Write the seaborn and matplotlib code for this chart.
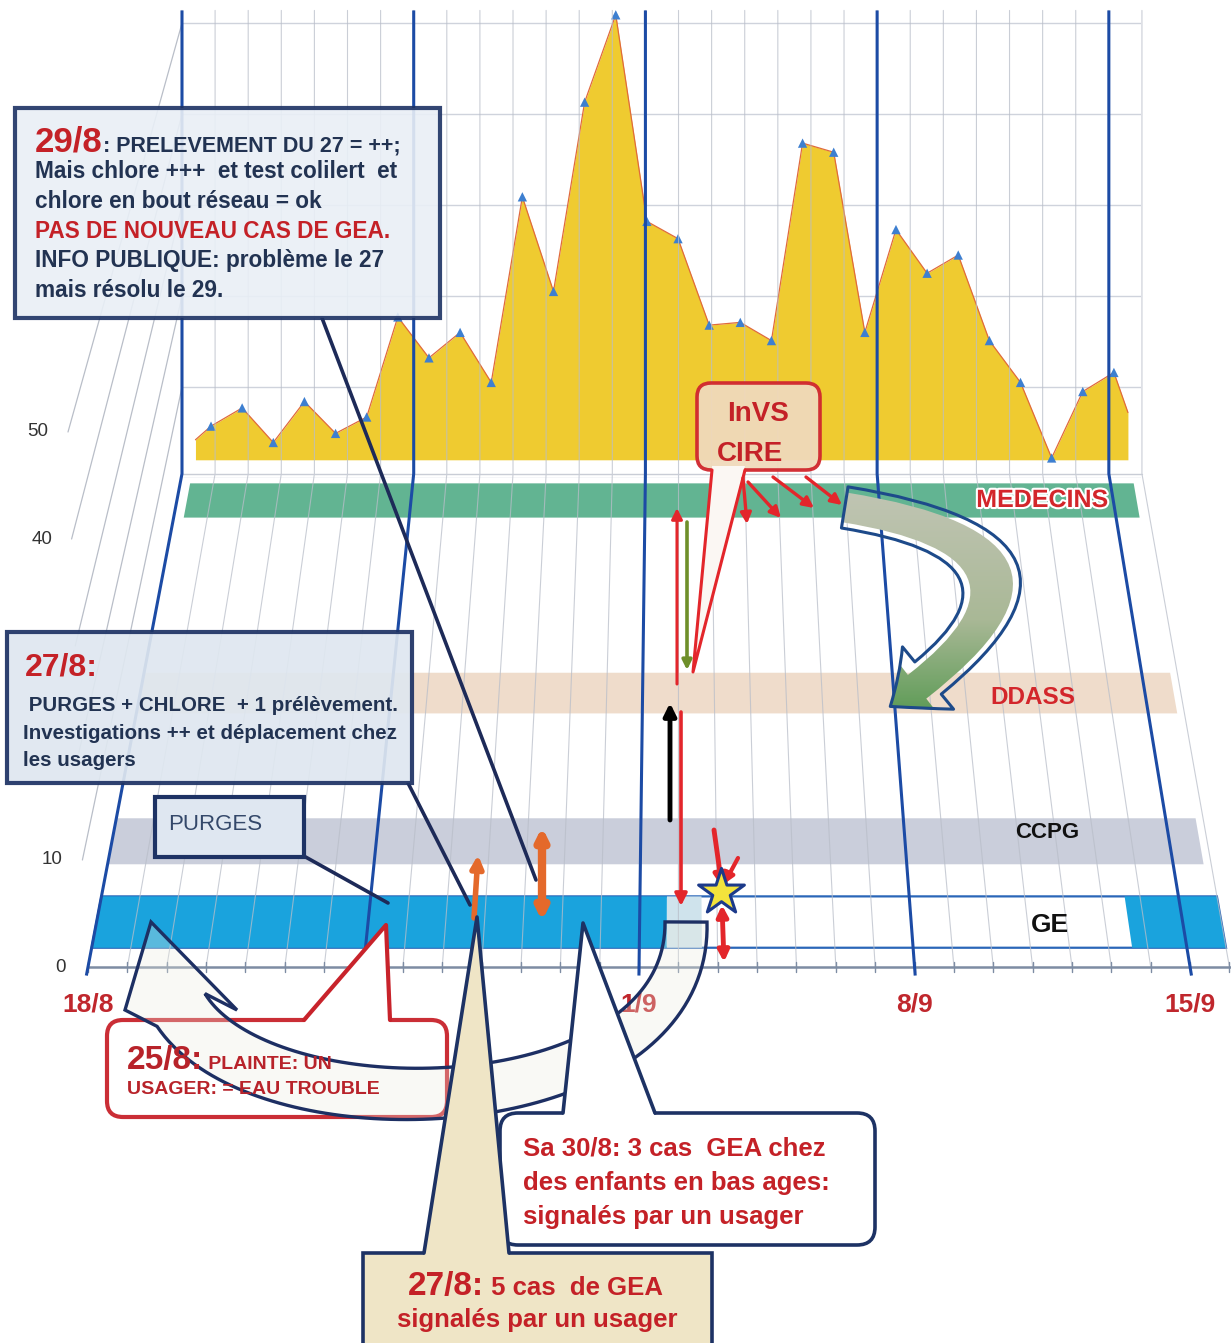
import numpy as np
import matplotlib
matplotlib.use("Agg")
import matplotlib.pyplot as plt
import seaborn as sns
import pandas as pd
import matplotlib.patheffects as pe
from matplotlib.patches import Polygon, FancyBboxPatch, FancyArrowPatch, Rectangle, ArrowStyle
from matplotlib.colors import LinearSegmentedColormap

# ------------------------------------------------------------------ data
date_labels = ["18/8", "25/8", "1/9", "8/9", "15/9"]
date_ticks = [0, 7, 14, 21, 28]          # days since 18/8
floor_days = list(range(30))              # daily grid 18/8 .. 16/9

daily_index = list(range(30))
daily_cases = [3.7, 5.7, 1.9, 6.4, 2.9, 4.7, 15.7, 11.2, 14.0, 8.5,
               28.9, 18.5, 39.3, 48.9, 26.2, 24.3, 14.8, 15.1, 13.1, 34.8,
               33.8, 14.0, 25.3, 20.5, 22.5, 13.1, 8.5, 0.2, 7.5, 9.6]
area_edge_x = [-0.5, 29.45]
area_edge_vals = [2.2, 5.2]

band_names = ["GE", "CCPG", "DDASS", "MEDECINS"]
band_low = [1.8, 9.6, 23.7, 42.0]
band_high = [6.6, 13.9, 27.5, 45.2]
band_start = [0.0, 0.0, 0.0, 0.3]
band_end = [29.0, 28.8, 28.8, 28.7]
band_colors = ["#1aa3dd", "#cacedb", "#efdccb", "#62b492"]
ge_active = [(0.0, 14.7), (26.6, 29.0)]

y_tick_values = [0, 10, 40, 50]
wall_levels = [10, 20, 30, 40, 50]

# ------------------------------------------------------------------ style
sns.set_theme(style="white")
plt.rcParams["font.family"] = ["Liberation Sans", "DejaVu Sans"]

W, H = 1231, 1343
fig = plt.figure(figsize=(W / 100, H / 100), dpi=100)
fig.patch.set_facecolor("white")

# perspective floor geometry (day, level) -> floor-axes x
PX_DAY, PX_LEVEL, X0, Y0 = 39.36, 10.7, 88, 967
BACK_LEVEL, TOP_LEVEL = 46.1, 89.4
BACK_OFFSET, BACK_SCALE = 2.388, 0.841


def fx(d, v):
    t = min(v / BACK_LEVEL, 1.0)
    return BACK_OFFSET * t + d * (1 - (1 - BACK_SCALE) * t)


ax_area = fig.add_axes([183 / W, 1 - 478 / H, (1141 - 183) / W, 478 / H])
ax_area.set_zorder(0)
ax = fig.add_axes([0, 0, 1, 1])
ax.set_zorder(1)
axn = fig.add_axes([0, 0, 1, 1])
axn.set_zorder(2)

# ---------------------------------------------------------------- area chart
x_full = [area_edge_x[0]] + daily_index + [area_edge_x[1]]
y_full = [area_edge_vals[0]] + daily_cases + [area_edge_vals[1]]
ax_area.fill_between(x_full, 0, y_full, color="#efcb30", lw=0, zorder=2)
sns.lineplot(x=x_full, y=y_full, ax=ax_area, color="#e06a3c", lw=0.9,
             sort=False, estimator=None, zorder=3)
df = pd.DataFrame({"day": daily_index, "cases": daily_cases})
sns.scatterplot(data=df, x="day", y="cases", marker="^", s=45,
                color="#3d7fd0", edgecolor="none", ax=ax_area, zorder=4)
ax_area.set_xlim(-0.9, 29.87)
ax_area.set_ylim(-2, -2 + 478 / 9.1)
ax_area.set_yticks([-2, 8, 18, 28, 38, 48])
ax_area.set_xticks([])
ax_area.yaxis.grid(True, color="#cfd3dc", lw=1.0)
ax_area.set_axisbelow(True)
ax_area.tick_params(left=False, labelleft=False, bottom=False, labelbottom=False)
ax_area.set_xlabel("")
ax_area.set_ylabel("")
for s in ax_area.spines.values():
    s.set_visible(False)

# ---------------------------------------------------------------- floor
ax.set_xlim(-X0 / PX_DAY, (W - X0) / PX_DAY)
ax.set_ylim(-(H - Y0) / PX_LEVEL, Y0 / PX_LEVEL)
ax.axis("off")

for name, lo, hi, d0, d1, col in zip(band_names, band_low, band_high,
                                     band_start, band_end, band_colors):
    corners = [(fx(d0, lo), lo), (fx(d1, lo), lo), (fx(d1, hi), hi), (fx(d0, hi), hi)]
    if name == "GE":
        ax.add_patch(Polygon(corners, closed=True, fc="white", ec="#2a66b8", lw=1.6, zorder=2))
        for a, b in ge_active:
            seg = [(fx(a, lo), lo), (fx(b, lo), lo), (fx(b, hi), hi), (fx(a, hi), hi)]
            ax.add_patch(Polygon(seg, closed=True, fc=col, ec="none", zorder=2.2))
        a, b = ge_active[0][1], ge_active[0][1] + 0.9
        seg = [(fx(a, lo), lo), (fx(b, lo), lo), (fx(b, hi), hi), (fx(a, hi), hi)]
        ax.add_patch(Polygon(seg, closed=True, fc="#cfe3ec", ec="none", zorder=2.1))
    else:
        ax.add_patch(Polygon(corners, closed=True, fc=col, ec="none", zorder=2))

for d in floor_days:
    ax.plot([fx(d, 0), fx(d, BACK_LEVEL), fx(d, TOP_LEVEL)], [0, BACK_LEVEL, TOP_LEVEL],
            color="#b9bec9", lw=0.8, alpha=0.75, zorder=3)
ax.plot([fx(0, BACK_LEVEL), fx(29, BACK_LEVEL)], [BACK_LEVEL, BACK_LEVEL],
        color="#c9cdd6", lw=1.0, zorder=3)

for v in wall_levels:
    front = ((86 - 0.36 * v) - X0) / PX_DAY
    back_v = 45.7 + 0.85 * v
    ax.plot([front, BACK_OFFSET], [v, back_v], color="#b9bec8", lw=0.9, zorder=3)

for d in date_ticks:
    ax.plot([fx(d, -0.8), fx(d, BACK_LEVEL), fx(d, TOP_LEVEL)], [-0.8, BACK_LEVEL, TOP_LEVEL],
            color="#1c4ba5", lw=2.2, zorder=5, solid_capstyle="butt")

ax.plot([fx(0, 0), (W - X0) / PX_DAY], [0, 0], color="#7d8ca3", lw=1.8, zorder=4)
for d in floor_days:
    ax.plot([d, d], [-0.5, 0.5], color="#7d8ca3", lw=1.0, zorder=4)
for d, lab in zip(date_ticks, date_labels):
    ax.text(d, -3.55, lab, ha="center", va="center", fontsize=19, fontweight="bold",
            color="#c0272d", zorder=6)
for v in y_tick_values:
    ax.text(((66 - 0.35 * v) - X0) / PX_DAY, v, str(v), ha="right", va="center",
            fontsize=13.5, color="#333333", zorder=6)

# ---------------------------------------------------------------- annotation layer
axn.set_xlim(0, W)
axn.set_ylim(H, 0)
axn.axis("off")

NAVY = "#1d3264"
RED = "#c42127"
ARED = "#e3262b"
TXT = "#223352"


def mixed(x, y, parts, z=10):
    t0 = axn.text(x, y, parts[0][0], fontsize=parts[0][1], color=parts[0][2],
                  fontweight="bold", va="baseline", ha="left", zorder=z)
    prev, psize = t0, parts[0][1]
    for txt, size, col in parts[1:]:
        prev = axn.annotate(txt, xy=(1, 0), xycoords=prev, xytext=(0, 0.21 * psize),
                            textcoords="offset points", fontsize=size, color=col,
                            fontweight="bold", va="baseline", ha="left", zorder=z)
        psize = size
    return t0


# pointer lines from boxes
axn.plot([322, 536], [318, 880], color="#1d2a58", lw=2.6, zorder=7)
axn.plot([408, 470], [783, 905], color="#1d2a58", lw=2.6, zorder=7)
axn.plot([302, 388], [855, 903], color="#1d2a58", lw=2.6, zorder=7)

# top-left box
axn.add_patch(Rectangle((15, 108), 425, 210, fc="#e9eff6", ec=NAVY, lw=3, alpha=0.9, zorder=8))
mixed(35, 152, [("29/8", 25, RED), (": PRELEVEMENT DU 27 = ++;", 15.5, TXT)])
for txt, col, yb in [("Mais chlore +++  et test colilert  et", TXT, 178),
                     ("chlore en bout réseau = ok", TXT, 208),
                     ("PAS DE NOUVEAU CAS DE GEA.", RED, 238),
                     ("INFO PUBLIQUE: problème le 27", TXT, 267),
                     ("mais résolu le 29.", TXT, 297)]:
    axn.text(35, yb, txt, fontsize=16.3, fontweight="bold", color=col, va="baseline", zorder=10)

# 27/8 box
axn.add_patch(Rectangle((7, 632), 405, 151, fc="#dfe7f0", ec=NAVY, lw=3, alpha=0.92, zorder=8))
axn.text(25, 676, "27/8:", fontsize=23, fontweight="bold", color=RED, va="baseline", zorder=10)
for txt, yb in [(" PURGES + CHLORE  + 1 prélèvement.", 711),
                ("Investigations ++ et déplacement chez", 739),
                ("les usagers", 766)]:
    axn.text(23, yb, txt, fontsize=14.8, fontweight="bold", color=TXT, va="baseline", zorder=10)

# PURGES box
axn.add_patch(Rectangle((155, 797), 149, 60, fc="#dfe7f1", ec=NAVY, lw=3, zorder=8))
axn.text(168, 830, "PURGES", fontsize=16, color="#34486a", va="baseline", zorder=10)

# InVS / CIRE box
axn.add_patch(Polygon([(712, 466), (693, 672), (745, 466)], closed=True,
                      fc="#fbf7f3", ec="none", zorder=8.5))
axn.plot([712, 693, 745], [470, 672, 470], color=ARED, lw=2.2, zorder=8.6)
axn.add_patch(FancyBboxPatch((697, 383), 123, 87, boxstyle="round,pad=0,rounding_size=14",
                             fc="#f0d9bb", ec="#d0262d", lw=2.6, alpha=0.95, zorder=8))
axn.add_patch(Polygon([(714, 467), (744, 467), (730, 476)], closed=True, fc="#fbf7f3",
                      ec="none", zorder=8.7))
axn.text(758, 414, "InVS", fontsize=20, fontweight="bold", color=RED, ha="center",
         va="center", zorder=10)
axn.text(750, 454, "CIRE", fontsize=20, fontweight="bold", color=RED, ha="center",
         va="center", zorder=10)


def arrow(p0, p1, col, lw, style="-|>", ms=18, z=9):
    axn.annotate("", xy=p1, xytext=p0,
                 arrowprops=dict(arrowstyle=style, color=col, lw=lw, mutation_scale=ms,
                                 shrinkA=0, shrinkB=0), zorder=z)


for p0, p1 in [((743, 478), (747, 524)), ((748, 482), (781, 518)),
               ((773, 477), (814, 508)), ((806, 477), (842, 505))]:
    arrow(p0, p1, ARED, 2.4, ms=16)

arrow((677, 684), (677, 508), ARED, 2.2, ms=16)
arrow((687, 522), (687, 670), "#6e8f2a", 2.6, ms=14)
arrow((670, 820), (670, 703), "black", 3.5, ms=18)
arrow((681, 712), (681, 906), ARED, 2.6, ms=18)

arrow((474, 918), (478, 855), "#e4692b", 4, ms=18)
arrow((542, 921), (542, 827), "#e4692b", 6, style="<|-|>", ms=16)

arrow((714, 830), (722, 887), ARED, 3.5, ms=18)
arrow((738, 858), (724, 884), ARED, 3, ms=14)
arrow((722, 905), (724, 962), ARED, 3.5, style="<|-|>", ms=16)
axn.scatter([721], [892], marker="*", s=1200, c="#f3e33c", edgecolors="#1c3a8a",
            linewidths=2.2, zorder=11)

# green curved arrow MEDECINS -> DDASS
green_arrow = FancyArrowPatch(posA=(842, 507), posB=(888, 708),
                              connectionstyle="arc3,rad=-1.25",
                              arrowstyle=ArrowStyle.Simple(head_length=0.85, head_width=1.45,
                                                           tail_width=0.75),
                              mutation_scale=40, fc="none", ec="#1d4a8a", lw=2.2, zorder=7)
axn.add_patch(green_arrow)
grad = np.linspace(0, 1, 256).reshape(-1, 1)
gcmap = LinearSegmentedColormap.from_list("g", ["#c4c7b8", "#a9b896", "#2f8a2f"])
im = axn.imshow(grad, extent=(815, 1045, 770, 470), cmap=gcmap, aspect="auto",
                origin="upper", zorder=6.9)
im.set_clip_path(green_arrow)

# 25/8 callout (red)
axn.add_patch(FancyBboxPatch((107, 1020), 340, 97, boxstyle="round,pad=0,rounding_size=16",
                             fc="white", ec="#c8232b", lw=3, alpha=0.95, zorder=8))
axn.add_patch(Polygon([(304, 1023), (386, 925), (390, 1023)], closed=True, fc="white",
                      ec="none", zorder=8.2))
axn.plot([304, 386, 390], [1020, 925, 1020], color="#c8232b", lw=3, zorder=8.3)
mixed(127, 1069, [("25/8:", 24, "#b8232a"), (" PLAINTE: UN", 14, "#b8232a")])
axn.text(127, 1094, "USAGER: = EAU TROUBLE", fontsize=14, fontweight="bold",
         color="#b8232a", va="baseline", zorder=10)


# big hollow curved arrow (1/9 GE -> 18/8 GE), built from a cubic centre line
def cubic(P, n=90):
    t = np.linspace(0, 1, n)[:, None]
    P = np.asarray(P, float)
    return ((1 - t) ** 3) * P[0] + 3 * ((1 - t) ** 2) * t * P[1] + 3 * (1 - t) * t ** 2 * P[2] + t ** 3 * P[3]


ctrl = [(686, 922), (690, 1125), (265, 1140), (181, 1010)]
cl = cubic(ctrl)
tan = np.gradient(cl, axis=0)
tan /= np.linalg.norm(tan, axis=1)[:, None]
nrm = np.column_stack([-tan[:, 1], tan[:, 0]])
half = np.linspace(21, 29, len(cl))[:, None]
sideA = cl + nrm * half
sideB = cl - nrm * half
tip = np.array([151, 922])
base_dir = np.array([1.0, 0.0]) * np.sign(nrm[-1][0])
cA = cl[-1] + base_dir * 56
cB = cl[-1] - base_dir * 56
outline = np.vstack([sideA, cA, tip, cB, sideB[::-1]])
axn.add_patch(Polygon(outline, closed=True, fc=(0.93, 0.93, 0.88, 0.3), ec="#1d2f63",
                      lw=2.4, zorder=9))

# Sa 30/8 callout
axn.add_patch(FancyBboxPatch((500, 1113), 375, 132, boxstyle="round,pad=0,rounding_size=18",
                             fc="white", ec=NAVY, lw=2.6, zorder=10))
axn.add_patch(Polygon([(563, 1117), (583, 923), (655, 1117)], closed=True, fc="white",
                      ec="none", zorder=10.2))
axn.plot([563, 583, 655], [1113, 923, 1113], color=NAVY, lw=2.6, zorder=10.3)
for txt, yb in [("Sa 30/8: 3 cas  GEA chez", 1156), ("des enfants en bas ages:", 1190),
                ("signalés par un usager", 1224)]:
    axn.text(523, yb, txt, fontsize=18.5, fontweight="bold", color=RED, va="baseline", zorder=11)

# 27/8 beige callout
axn.add_patch(Rectangle((363, 1253), 349, 110, fc="#efe5c6", ec=NAVY, lw=2.6, zorder=12))
axn.add_patch(Polygon([(424, 1257), (477, 917), (509, 1257)], closed=True, fc="#efe5c6",
                      ec="none", zorder=12.2))
axn.plot([424, 477, 509], [1253, 917, 1253], color=NAVY, lw=2.6, zorder=12.3)
mixed(408, 1295, [("27/8:", 24, RED), (" 5 cas  de GEA", 18.5, RED)], z=13)
axn.text(537, 1327, "signalés par un usager", fontsize=18.5, fontweight="bold", color=RED,
         ha="center", va="baseline", zorder=13)

# band labels
halo = [pe.withStroke(linewidth=3, foreground="white")]
axn.text(1042, 500, "MEDECINS", fontsize=18, fontweight="bold", color="#d3262b",
         ha="center", va="center", zorder=10, path_effects=halo)
axn.text(1033, 698, "DDASS", fontsize=17.5, fontweight="bold", color="#d3262b",
         ha="center", va="center", zorder=10)
axn.text(1047, 833, "CCPG", fontsize=16, fontweight="bold", color="#111111",
         ha="center", va="center", zorder=10)
axn.text(1050, 925, "GE", fontsize=19, fontweight="bold", color="#111111",
         ha="center", va="center", zorder=10)

axn.set_xlim(0, W)
axn.set_ylim(H, 0)

fig.savefig("out.png", dpi=100, facecolor="white")
